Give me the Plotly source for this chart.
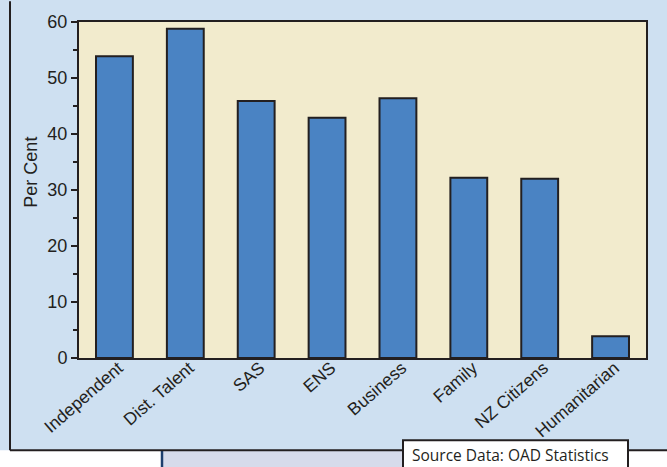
import plotly.graph_objects as go

categories = ["Independent", "Dist. Talent", "SAS", "ENS", "Business",
              "Family", "NZ Citizens", "Humanitarian"]
per_cent = [53.9, 58.8, 45.9, 42.9, 46.4, 32.2, 32.0, 3.9]
y_ticks = [0, 10, 20, 30, 40, 50, 60]

W, H = 667, 467
L, R, T, B = 79, 646, 19, 358  # plot area edges in pixels

DARK = "#231f20"
PANEL = "#cee0f1"
PLOT_BG = "#f2ebcd"
BAR = "#4a83c3"
FONT = "Liberation Sans, Arial, sans-serif"


def px(x):
    return (x - L) / (R - L)


def py(y):
    return (B - y) / (B - T)


fig = go.Figure(
    go.Bar(
        x=categories,
        y=per_cent,
        width=0.52,
        marker=dict(color=BAR, line=dict(color=DARK, width=2)),
        hoverinfo="x+y",
    )
)

shapes = [
    # strip below the panel
    dict(type="rect", xref="paper", yref="paper",
         x0=px(0), x1=px(W), y0=py(H + 2), y1=py(451),
         fillcolor="white", line=dict(width=0), layer="below"),
    dict(type="rect", xref="paper", yref="paper",
         x0=px(162), x1=px(403), y0=py(H + 2), y1=py(451),
         fillcolor="#d6dbeb", line=dict(width=0), layer="below"),
    dict(type="line", xref="paper", yref="paper",
         x0=px(162), x1=px(162), y0=py(H + 2), y1=py(451),
         line=dict(color="#1d3f6e", width=2.5)),
    # panel border
    dict(type="line", xref="paper", yref="paper",
         x0=px(10), x1=px(10), y0=py(-2), y1=py(451),
         line=dict(color=DARK, width=2)),
    dict(type="line", xref="paper", yref="paper",
         x0=px(10), x1=px(W + 2), y0=py(451), y1=py(451),
         line=dict(color=DARK, width=2)),
    # source box
    dict(type="rect", xref="paper", yref="paper",
         x0=px(403), x1=px(628), y0=py(H + 4), y1=py(441),
         fillcolor="white", line=dict(color=DARK, width=2)),
]

annotations = [
    dict(text="Per Cent", x=px(31), y=py(171), xref="paper", yref="paper",
         textangle=-90, showarrow=False, xanchor="center", yanchor="middle",
         font=dict(family=FONT, size=18, color=DARK)),
    dict(text="Source Data: OAD Statistics", x=px(410), y=py(456),
         xref="paper", yref="paper", showarrow=False,
         xanchor="left", yanchor="middle",
         font=dict(family="Open Sans, sans-serif", size=15.5, color=DARK)),
]

fig.update_layout(
    width=W, height=H,
    margin=dict(l=L, r=W - R, t=T, b=H - B, pad=0),
    paper_bgcolor=PANEL,
    plot_bgcolor=PLOT_BG,
    showlegend=False,
    bargap=0.48,
    shapes=shapes,
    annotations=annotations,
    font=dict(family=FONT, color=DARK),
    xaxis=dict(
        tickangle=-41,
        tickfont=dict(family=FONT, size=17.5, color=DARK),
        ticklabelshift=4,
        ticklabelstandoff=-9,
        showline=True, linecolor=DARK, linewidth=2, mirror=True,
        ticks="", showgrid=False,
    ),
    yaxis=dict(
        range=[0, 60],
        tickvals=y_ticks,
        tickfont=dict(family=FONT, size=18, color=DARK),
        showline=True, linecolor=DARK, linewidth=2, mirror=True,
        ticks="outside", ticklen=6, tickwidth=1.5, tickcolor=DARK,
        minor=dict(dtick=5, ticks="outside", ticklen=4, tickwidth=1.5,
                   tickcolor=DARK),
        showgrid=False, zeroline=False,
    ),
)

fig.write_html("out.html")
